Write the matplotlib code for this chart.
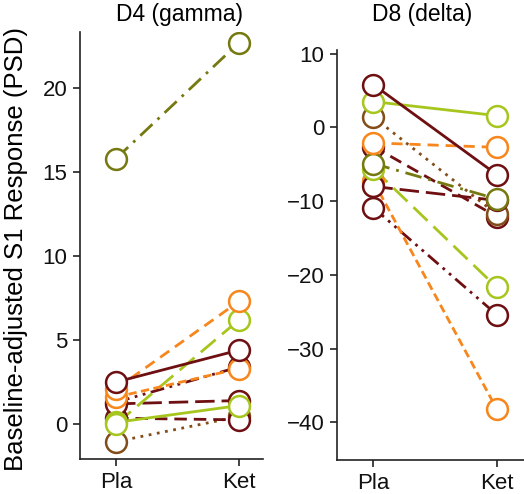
import matplotlib
matplotlib.use("Agg")
import matplotlib.pyplot as plt

plt.rcParams['font.family'] = ['Liberation Sans', 'DejaVu Sans']

conditions = ["Pla", "Ket"]
subjects = ["A", "B", "C", "D", "E", "F", "G", "H", "I", "J"]

# D4 (gamma) values: [Pla, Ket]
d4_pla = [2.5, 0.1, -1.05, 2.1, 0.35, 15.8, 0.0, 1.2, 1.6, 1.3]
d4_ket = [4.4, 1.1, 0.45, 7.3, 0.25, 22.7, 6.2, 1.4, 3.3, 3.4]

# D8 (delta) values
d8_pla = [5.8, 3.5, 1.4, -2.1, -2.6, -4.9, -5.6, -8.0, -7.3, -10.9]
d8_ket = [-6.4, 1.6, -11.8, -2.7, -12.1, -9.7, -21.7, -9.9, -38.2, -25.4]

maroon = "#6e0f12"
lime = "#a6c61e"
orange = "#f7861c"
olive = "#75790f"
brown = "#834d18"

colors = [maroon, lime, brown, orange, maroon, olive, lime, maroon, orange, maroon]
styles = ['-', '-', (0, (1, 2)), (0, (4, 2.5)), (0, (4.5, 2.5)), (0, (6, 2.5, 1, 2.5)),
          (0, (7, 3)), (0, (7, 2.5)), (0, (3, 1.6)), (0, (5, 2, 1, 2, 1, 2))]

fig = plt.figure(figsize=(5.24, 4.94), dpi=100)
ax1 = fig.add_axes([80/524, 35/494, 183/524, 427/494])
ax2 = fig.add_axes([337/524, 34/494, 187/524, 410/494])


def draw(ax, pla, ket, order):
    xs = [0, 1]
    for i in order:
        ax.plot(xs, [pla[i], ket[i]], color=colors[i], linestyle=styles[i], lw=2.0,
                dash_capstyle='butt', zorder=2)
    for i in order:
        ax.plot(xs, [pla[i], ket[i]], linestyle='none', marker='o', ms=15,
                mfc='white', mec=colors[i], mew=1.8, zorder=3)


draw(ax1, d4_pla, d4_ket, [9, 2, 4, 7, 1, 6, 8, 3, 0, 5])
draw(ax2, d8_pla, d8_ket, [4, 2, 9, 8, 7, 6, 5, 3, 1, 0])

ax1.set_xlim(-0.293, 1.195)
ax1.set_ylim(-2.08, 23.33)
ax1.set_yticks([0, 5, 10, 15, 20])
ax2.set_xlim(-0.295, 1.22)
ax2.set_ylim(-45.1, 10.5)
ax2.set_yticks([10, 0, -10, -20, -30, -40])

for ax in (ax1, ax2):
    ax.set_xticks([0, 1])
    ax.set_xticklabels(conditions)
    for s in ("top", "right"):
        ax.spines[s].set_visible(False)
    for s in ("left", "bottom"):
        ax.spines[s].set_linewidth(1.2)
        ax.spines[s].set_color("#222222")
    ax.tick_params(direction='out', length=5, width=1.2, labelsize=16, colors="#222222",
                   labelcolor="#111111", pad=4)

fig.text(16/524, 1 - 249/494, "Baseline-adjusted S1 Response (PSD)", rotation=90,
         ha='center', va='center', fontsize=18.5)
fig.text(179/524, 1 - 15/494, "D4 (gamma)", ha='center', va='center', fontsize=16.5)
fig.text(422/524, 1 - 15/494, "D8 (delta)", ha='center', va='center', fontsize=16.5)

fig.savefig("out.png", dpi=100)
